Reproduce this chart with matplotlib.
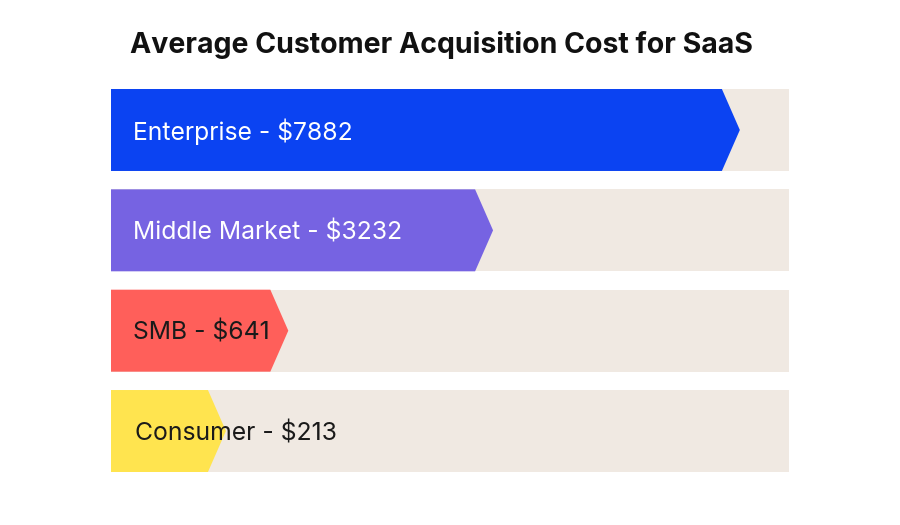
import matplotlib.pyplot as plt
from matplotlib.patches import Polygon

# data
labels = ['Enterprise', 'Middle Market', 'SMB', 'Consumer']
costs = [7882, 3232, 641, 213]
# bar lengths as drawn (not proportional), in % of the track
bar_len = [90.1, 53.7, 23.5, 14.3]
colors = ['#0b43f2', '#7663e2', '#ff5f5a', '#ffe44f']
text_colors = ['white', 'white', '#1a1a1a', '#1a1a1a']

plt.rcParams['font.family'] = ['Inter', 'DejaVu Sans']

fig = plt.figure(figsize=(9, 5.25), dpi=100)
ax = fig.add_axes([111 / 900, 1 - 472 / 525, 678 / 900, 383 / 525])

h = 0.817
tip = 2.65
for i, (lab, c, L, col, tc) in enumerate(zip(labels, costs, bar_len, colors, text_colors)):
    ax.barh(i, 100, height=h, left=0, color='#f0e9e2', zorder=1)
    pts = [(0, i - h / 2), (L, i - h / 2), (L + tip, i), (L, i + h / 2), (0, i + h / 2)]
    ax.add_patch(Polygon(pts, closed=True, color=col, zorder=2, lw=0))
    xoff = 3.5 if i == 3 else 3.2
    ax.text(xoff, i + 0.02, f'{lab} - ${c}', va='center', ha='left', fontsize=17.8,
            color=tc, zorder=3)

ax.set_xlim(0, 100)
ax.set_ylim(3.4085, -0.4085)
ax.axis('off')

fig.text(441 / 900, 1 - 45 / 525, 'Average Customer Acquisition Cost for SaaS',
         ha='center', va='center', fontsize=20.5, fontweight='bold', color='#111111')

fig.savefig('out.png', dpi=100, facecolor='white')
